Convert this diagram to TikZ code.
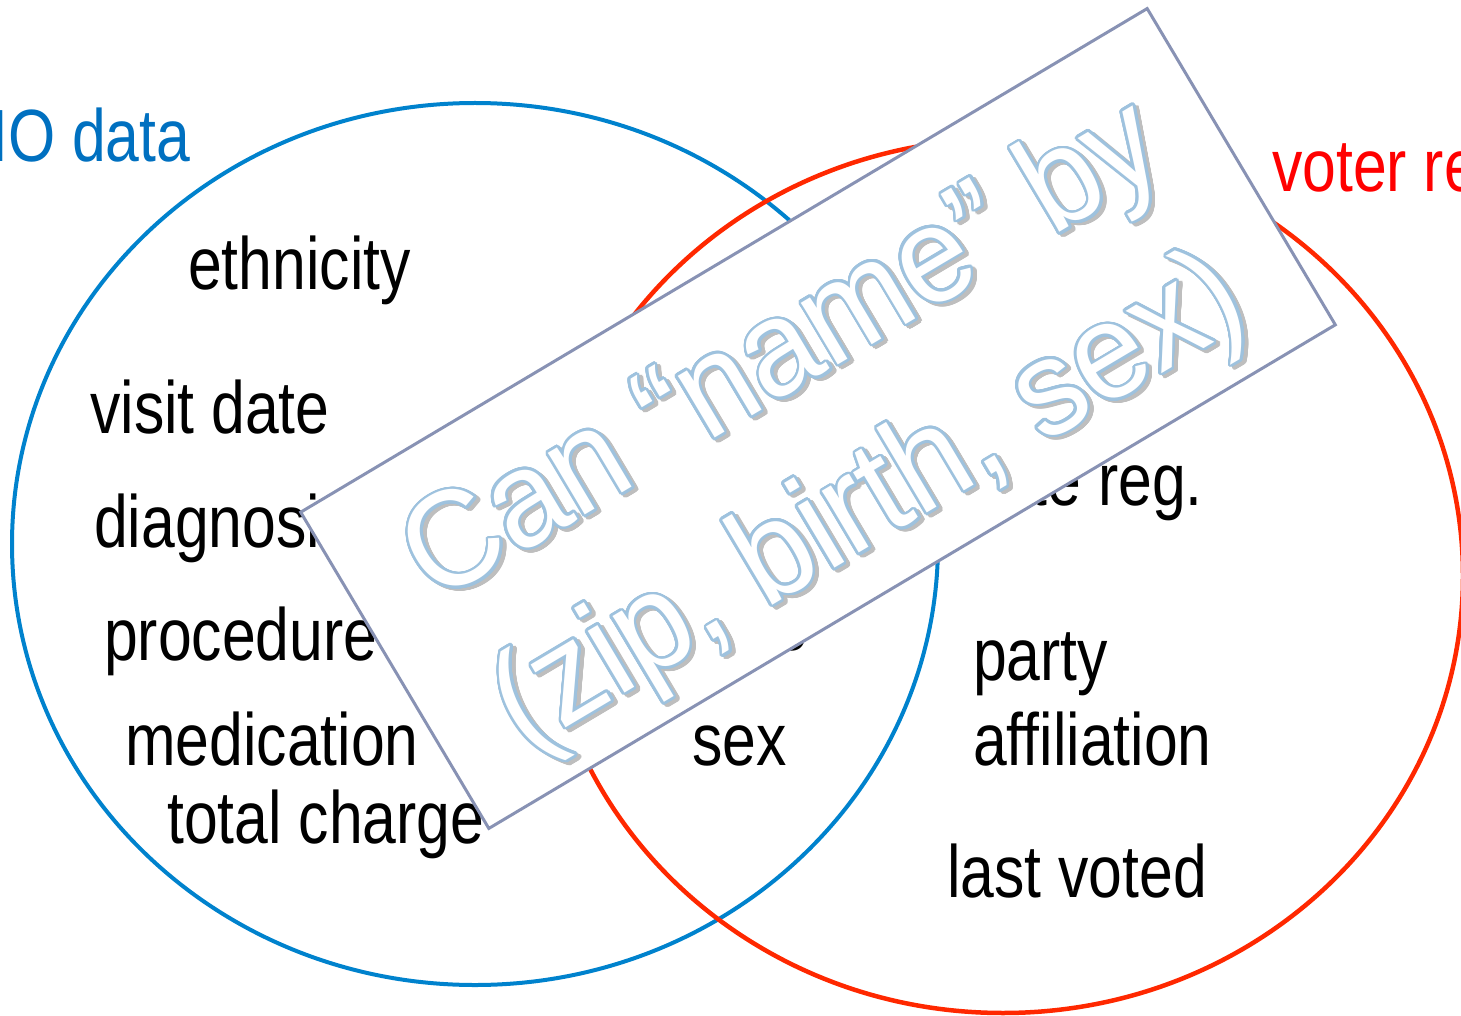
\documentclass[tikz,border=0pt]{standalone}
\usepackage{fontspec}
\setmainfont{Liberation Sans}
\newfontfamily\labelfont[FakeStretch=0.82]{Liberation Sans}
\newfontfamily\bannerfont[FakeStretch=0.95]{Liberation Sans}
\usepackage{contour}
\contourlength{2.6pt}
\contournumber{32}

\definecolor{setblue}{RGB}{0,130,205}
\definecolor{setred}{RGB}{255,40,0}
\definecolor{titleblue}{RGB}{0,112,192}
\definecolor{titlered}{RGB}{255,0,0}
\definecolor{framegray}{RGB}{136,146,180}
\definecolor{outlineblue}{RGB}{158,194,222}
\definecolor{shadowgray}{RGB}{190,190,190}

\tikzset{
  lbl/.style={anchor=base west, inner sep=0pt, font=\labelfont\fontsize{74}{74}\selectfont},
  settitle/.style={lbl},
  banner/.style={draw=framegray, fill=white, line width=3pt, inner sep=0pt,
                 minimum width=985pt, minimum height=368pt},
  bannertext/.style={anchor=base, inner sep=0pt, font=\bannerfont\fontsize{136}{136}\selectfont}
}

\begin{document}
\begin{tikzpicture}[x=1pt, y=-1pt]
  \useasboundingbox (0,0) rectangle (1461,1016);
  \clip (0,0) rectangle (1461,1016);

  % the two record sets
  \draw[setblue, line width=4pt] (475,544) ellipse [x radius=463, y radius=441];
  \draw[setred, line width=4.5pt] (1003,576) ellipse [x radius=460, y radius=437];

  % set titles
  \node[settitle, text=titleblue] (medtitle) at (-9,162) {IO data};
  \node[settitle, text=titlered] (votetitle) at (1272,192) {voter re};

  % attributes of the medical data
  \node[lbl] (ethnicity) at (188,290) {ethnicity};
  \node[lbl] (visit) at (90,433) {visit date};
  \node[lbl] (diagnosis) at (94,547) {diagnosis};
  \node[lbl] (procedure) at (104,660) {procedure};
  \node[lbl] (medication) at (125,765) {medication};
  \node[lbl] (charge) at (167,843) {total charge};

  % shared attributes
  \node[lbl] (birth) at (555,650) {birth date};
  \node[lbl] (sex) at (692,765) {sex};

  % attributes of the voter list
  \node[lbl] (datereg) at (963,505) {date reg.};
  \node[lbl] (party) at (973,680) {party};
  \node[lbl] (affil) at (973,765) {affiliation};
  \node[lbl] (voted) at (947,897) {last voted};

  % tilted banner over the overlap
  \node[banner, rotate=30.75] (bannerbox) at (818,418.5) {};
  \begin{scope}[shift={(818,418.5)}, rotate=30.75, transform shape]
    \node[bannertext] (shadow1) at (6,-32)
      {\contour{shadowgray}{\textcolor{shadowgray}{Can \char"201C name\char"201D\ by}}};
    \node[bannertext] (shadow2) at (3,141)
      {\contour{shadowgray}{\textcolor{shadowgray}{(zip, birth, sex)}}};
    \node[bannertext] (line1) at (4,-36)
      {\contour{outlineblue}{\textcolor{white}{Can \char"201C name\char"201D\ by}}};
    \node[bannertext] (line2) at (1,137)
      {\contour{outlineblue}{\textcolor{white}{(zip, birth, sex)}}};
  \end{scope}
\end{tikzpicture}
\end{document}
